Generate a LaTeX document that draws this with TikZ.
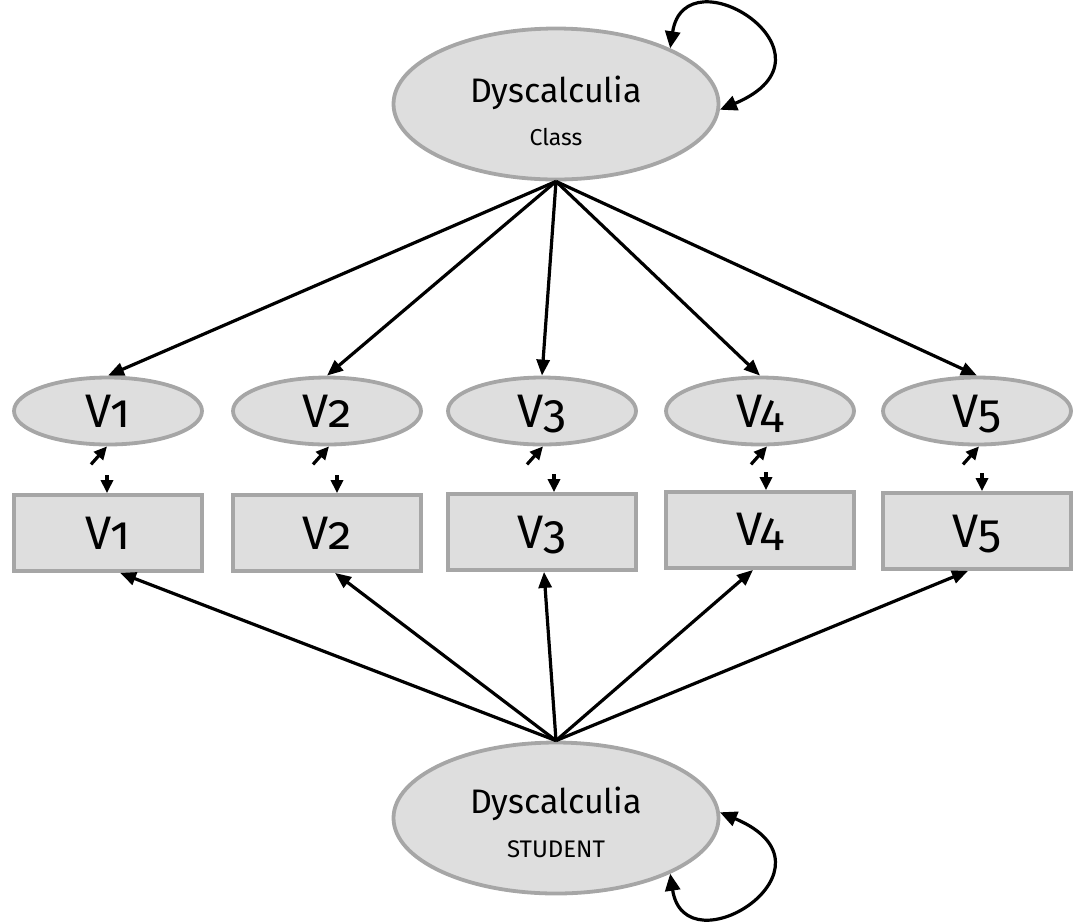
\documentclass[tikz,border=0pt]{standalone}
\usepackage{fontspec}
\setmainfont{Fira Sans}[Numbers=OldStyle]
\usetikzlibrary{shapes.geometric,arrows.meta}
\definecolor{boxfill}{HTML}{DEDEDE}
\definecolor{boxline}{HTML}{A6A6A6}
\tikzset{
  latent/.style={ellipse,draw=boxline,fill=boxfill,line width=3.8pt,inner sep=0pt},
  bigfactor/.style={latent,minimum width=325pt,minimum height=151pt},
  indicator/.style={latent,minimum width=188pt,minimum height=67pt},
  observed/.style={rectangle,draw=boxline,fill=boxfill,line width=3.8pt,inner sep=0pt,
    minimum width=188pt,minimum height=76pt},
  vtext/.style={anchor=base,inner sep=0pt,font=\fontsize{47}{52}\selectfont},
  titletext/.style={anchor=base,inner sep=0pt,font=\fontsize{34}{38}\selectfont},
  subtext/.style={anchor=base,inner sep=0pt,font=\fontsize{23}{26}\selectfont},
  loading/.style={line width=3.2pt,-{Triangle[length=16pt,width=13pt]}},
  errarrow/.style={line width=3.2pt,-{Triangle[length=13pt,width=12pt]}},
  loopline/.style={line width=3.2pt,{Triangle[length=17pt,width=15pt]}-{Triangle[length=17pt,width=15pt]}}
}
\begin{document}
\begin{tikzpicture}[x=1pt,y=1pt]
\useasboundingbox (0,0) rectangle (1075,-922);

% class-level and student-level factors
\node[bigfactor] (cls) at (556,-104) {};
\node[titletext] (clsname) at (556,-102) {Dyscalculia};
\node[subtext] (clslvl) at (556,-145) {Class};

\node[bigfactor] (stu) at (556,-818) {};
\node[titletext] (stuname) at (556,-813) {Dyscalculia};
\node[subtext,font=\fontsize{24}{27}\selectfont] (stulvl) at (556,-857) {STUDENT};

% indicator ellipses and observed boxes
\foreach \i/\x/\ry/\eb/\rb in {1/108/533/427/549, 2/327/533/427/549, 3/542/532/427/548, 4/760/530/427/545, 5/977/531/427/547}{
  \node[indicator] (e\i) at (\x,-411) {};
  \node[vtext] (et\i) at (\x,-\eb) {V\i};
  \node[observed] (r\i) at (\x,-\ry) {};
  \node[vtext] (rt\i) at (\x,-\rb) {V\i};
}

% loadings from the class factor
\foreach \i in {1,...,5}{
  \draw[loading] (cls.south) -- (e\i.north);
}

% loadings from the student factor
\foreach \i/\s in {1/12,2/8,3/2,4/-7,5/-9}{
  \draw[loading] (stu.north) -- ([xshift=\s pt]r\i.south);
}

% residual arrows between each ellipse and its box
\foreach \i/\a/\b in {1/-1/-1, 2/2/10, 3/1/12, 4/7/6, 5/2/5}{
  \coordinate (dstart\i) at ([xshift=\a pt-16pt,yshift=-18pt]e\i.south);
  \draw[errarrow] (dstart\i) -- ([xshift=\a pt]e\i.south);
  \coordinate (vstart\i) at ([xshift=\b pt,yshift=18pt]r\i.north);
  \draw[errarrow] (vstart\i) -- ([xshift=\b pt]r\i.north);
}

% variance loops
\draw[loopline] (cls.26) .. controls (685,50) and (850,-55) .. (cls.-2);
\draw[loopline] (stu.2) .. controls (850,-867) and (685,-972) .. (stu.-26);
\end{tikzpicture}
\end{document}
